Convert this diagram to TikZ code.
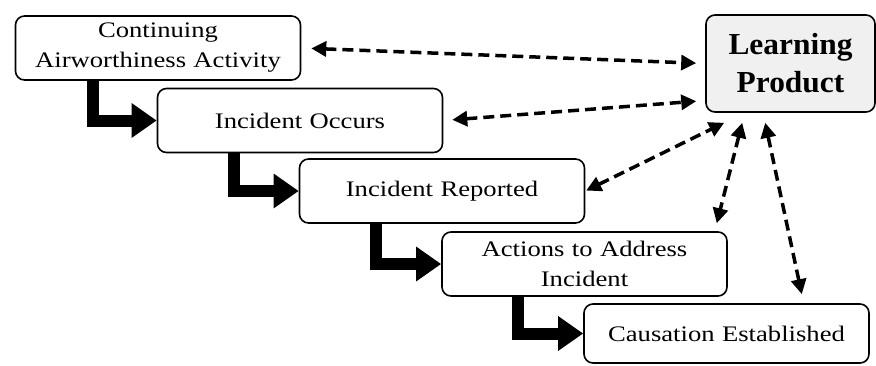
\documentclass[tikz,border=0pt]{standalone}
\usepackage{fontspec}
\setmainfont{Liberation Serif}[FakeStretch=1.2]
\newfontfamily\headfont{Liberation Serif}[FakeStretch=1.03]
\usepackage{xcolor}
\usepackage{tikz}
\usetikzlibrary{arrows.meta, positioning}

\begin{document}
\begin{tikzpicture}[x=1pt, y=-1pt,
  stage/.style={rectangle, rounded corners=9pt, draw=black, line width=1.6pt, minimum width=285pt, minimum height=64pt, text width=275pt, inner sep=0pt, align=center, font=\fontsize{22.2}{30}\selectfont},
  flow/.style={line width=12pt, -{Triangle[length=25pt,width=33pt]}},
  link/.style={line width=3.5pt, dash pattern=on 11pt off 6pt, {Triangle[length=15pt,width=15pt]}-{Triangle[length=15pt,width=15pt]}}]
\useasboundingbox (0,0) rectangle (876,365);

\node (air) [stage] at (158,48) {Continuing\\Airworthiness Activity};
\node (occur) [stage] at (300,120.5) {Incident Occurs};
\node (report) [stage] at (442,191) {Incident Reported};
\node (action) [stage] at (584.5,264) {Actions to Address\\Incident};
\node (cause) [stage, minimum height=59pt] at (726.5,333.5) {Causation Established};
\node (learn) [rectangle, rounded corners=9pt, draw=black, line width=1.6pt, fill=gray!12, minimum width=169pt, minimum height=97pt, inner sep=0pt, align=center, font=\headfont\bfseries\fontsize{30.5}{38}\selectfont] at (790.5,63.5) {Learning\\Product};

\draw[flow] ([xshift=78pt]air.south west) |- (occur.west);
\draw[flow] ([xshift=77pt]occur.south west) |- (report.west);
\draw[flow] ([xshift=77pt]report.south west) |- (action.west);
\draw[flow] ([xshift=77pt]action.south west) |- (cause.west);

\draw[link, shorten <=10pt, shorten >=9pt] (air.east) -- (learn.west);
\draw[link, shorten <=9pt, shorten >=9pt] (occur.east) -- ([yshift=-37pt]learn.west);
\draw[link, shorten <=1pt] (report.east) -- ([xshift=19pt,yshift=-10pt]learn.south west);
\draw[link] ([xshift=37pt,yshift=-10pt]learn.south west) -- ([xshift=-11pt,yshift=8pt]action.north east);
\draw[link] ([xshift=60pt,yshift=-10pt]learn.south west) -- ([xshift=-68pt,yshift=9pt]cause.north east);
\end{tikzpicture}
\end{document}
